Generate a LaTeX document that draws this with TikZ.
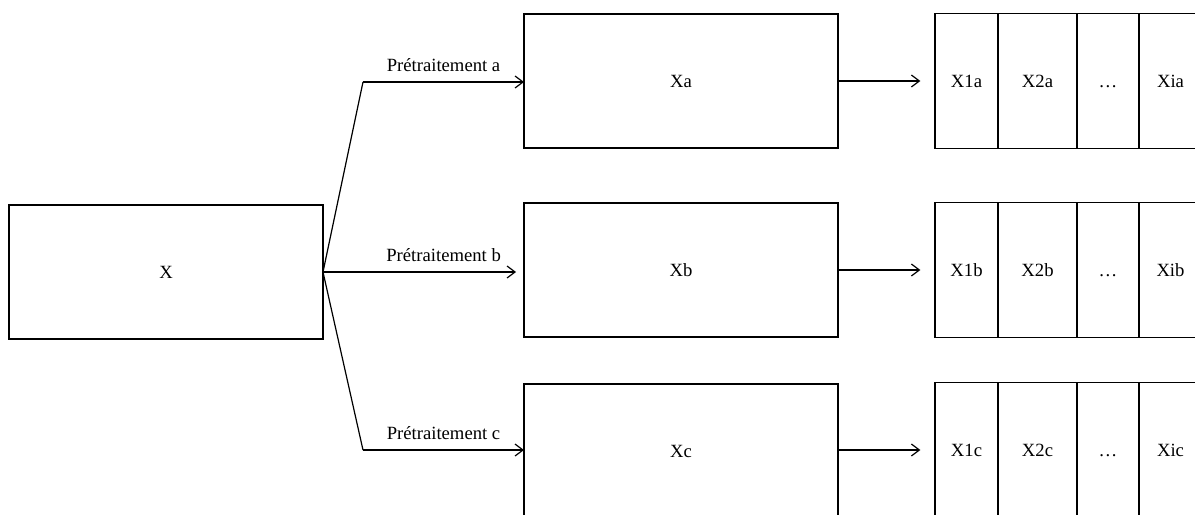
\documentclass[tikz,border=0pt]{standalone}
\usepackage{fontspec}
\setmainfont{Liberation Serif}
\usetikzlibrary{arrows.meta,positioning}
\tikzset{
  bloc/.style={draw,line width=0.9pt,minimum width=235.5pt,minimum height=100.5pt,
               inner sep=0pt,outer sep=0pt,font=\fontsize{14}{16}\selectfont},
  cell/.style={draw,line width=0.9pt,minimum height=101.25pt,inner sep=0pt,outer sep=0pt,
               text height=9.5pt,text depth=0pt,font=\fontsize{14}{16}\selectfont},
  link/.style={line width=0.9pt},
  arrow/.style={-{Straight Barb[length=6pt,width=9pt]},line width=0.9pt},
  lab/.style={font=\fontsize{14}{16}\selectfont,inner sep=7.5pt}
}

\begin{document}
\begin{tikzpicture}[x=0.75pt,y=-0.75pt]
\clip (0,0) rectangle (1195,514);
\node[bloc] (X) at (166,272) {X};
\node[bloc] (Xa) at (681,81) {Xa};
\node[bloc] (Xb) at (681,270) {Xb};
\node[bloc] (Xc) at (681,451) {Xc};
% decoupages
\node[cell,minimum width=47.25pt,anchor=west] (a1) at (935,81) {X1a};
\node[cell,minimum width=59.25pt,right=0pt of a1] (a2) {X2a};
\node[cell,minimum width=46.5pt,right=0pt of a2] (adots) {…};
\node[cell,minimum width=47.25pt,right=0pt of adots] (ai) {Xia};
\node[cell,minimum width=47.25pt,anchor=west] (b1) at (935,270) {X1b};
\node[cell,minimum width=59.25pt,right=0pt of b1] (b2) {X2b};
\node[cell,minimum width=46.5pt,right=0pt of b2] (bdots) {…};
\node[cell,minimum width=47.25pt,right=0pt of bdots] (bi) {Xib};
\node[cell,minimum width=47.25pt,anchor=west] (c1) at (935,450) {X1c};
\node[cell,minimum width=59.25pt,right=0pt of c1] (c2) {X2c};
\node[cell,minimum width=46.5pt,right=0pt of c2] (cdots) {…};
\node[cell,minimum width=47.25pt,right=0pt of cdots] (ci) {Xic};
\coordinate (ka) at (363,82);
\coordinate (kc) at (363,450);
\draw[link] (X.east) -- (ka);
\draw[link] (X.east) -- (kc);
\draw[arrow] (ka) -- node[lab,above]{Prétraitement a} (ka -| Xa.west);
\draw[arrow,shorten >=6pt] (X.east) -- node[lab,above,pos=0.6]{Prétraitement b} (X.east -| Xb.west);
\draw[arrow] (kc) -- node[lab,above]{Prétraitement c} (kc -| Xc.west);
\draw[arrow,shorten >=11pt] (Xa) -- (a1);
\draw[arrow,shorten >=11pt] (Xb) -- (b1);
\draw[arrow,shorten >=11pt] (Xc.east |- c1) -- (c1);
\end{tikzpicture}
\end{document}
